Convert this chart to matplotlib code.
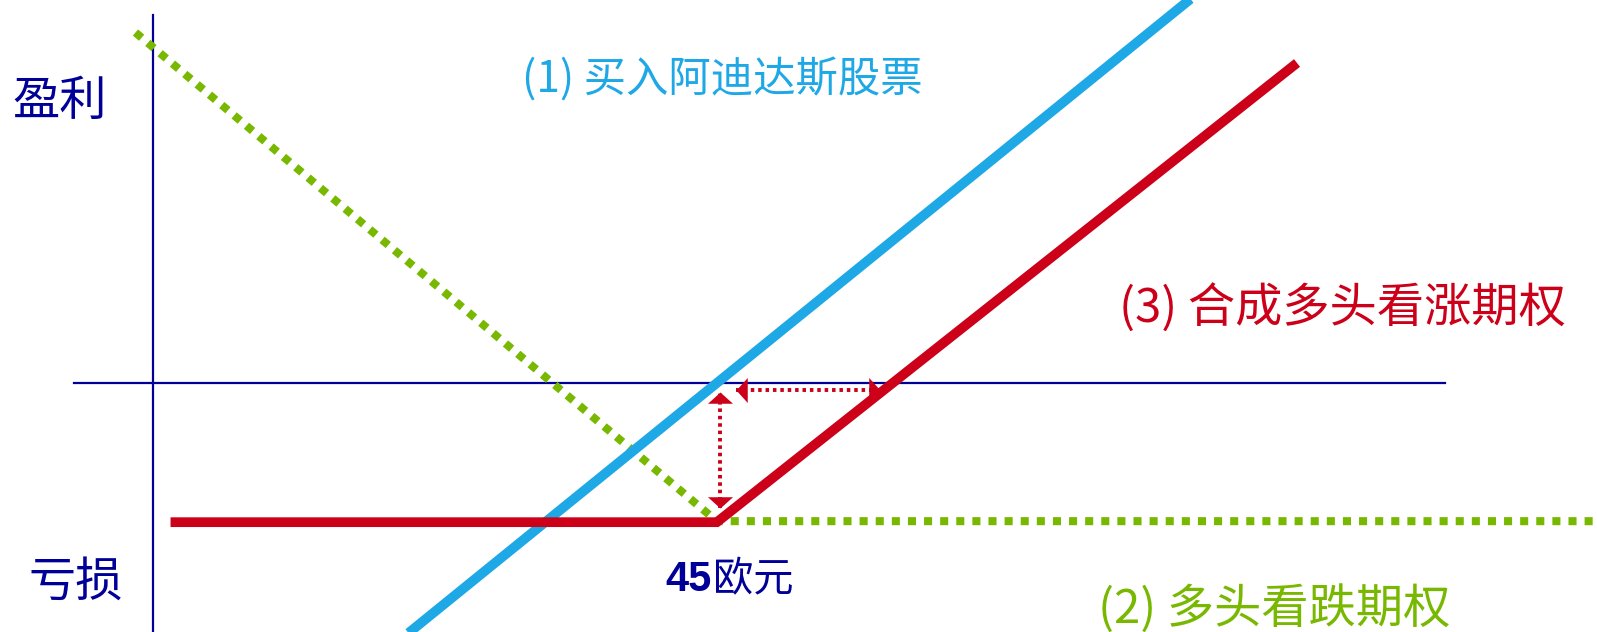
import matplotlib
matplotlib.use("Agg")
import matplotlib.pyplot as plt

plt.rcParams['font.family'] = ['Noto Sans CJK SC', 'DejaVu Sans']

# --- data: price (euro) vs profit ---
strike = 45
premium = 13.7

stock_price = [20.0, 83.0]          # (1) buy Adidas stock
stock_profit = [-25.0, 38.0]

put_price = [-1.4, 45.0, 116.0]     # (2) long put
put_profit = [34.5, -13.6, -13.6]

call_price = [1.4, 45.0, 91.3]      # (3) synthetic long call
call_profit = [-13.7, -13.7, 31.5]

# arrows showing the premium (vertical) and break-even shift (horizontal)
arrow_v_price = [45.25, 45.25]
arrow_v_profit = [-12.3, -0.9]
arrow_h_price = [46.5, 58.0]
arrow_h_profit = [-0.7, -0.7]

labels = ["(1) 买入阿迪达斯股票", "(2) 多头看跌期权", "(3) 合成多头看涨期权"]

navy = "#000099"
blue = "#1FA8E6"
green = "#78B800"
red = "#CC0019"

fig = plt.figure(figsize=(15.97, 6.32), dpi=100)
ax = fig.add_axes([0, 0, 1, 1])
ax.set_xlim(-12.21, 115.24)
ax.set_ylim(-24.51, 37.70)
ax.axis("off")

# axes cross
ax.plot([0, 0], [-25, 36.2], color=navy, lw=1.6, zorder=1)
ax.plot([-6.3, 103.1], [0, 0], color=navy, lw=1.6, zorder=1)

# payoff lines
ax.plot(put_price, put_profit, color=green, lw=5.8, linestyle=(0, (1, 1.0)),
        dash_capstyle="butt", zorder=2)
ax.plot(stock_price, stock_profit, color=blue, lw=7, solid_capstyle="butt", zorder=3)

# dotted double-headed arrows
ax.plot(arrow_v_price, arrow_v_profit, color=red, lw=2.8, linestyle=(0, (0.9, 1.0)),
        dash_capstyle="butt", zorder=4)
ax.plot(arrow_h_price, arrow_h_profit, color=red, lw=2.8, linestyle=(0, (0.9, 1.0)),
        dash_capstyle="butt", zorder=4)
up = [(-1, -0.9), (1, -0.9), (0, 0), (-1, -0.9)]
down = [(-1, 0.9), (1, 0.9), (0, 0), (-1, 0.9)]
left = [(0.9, -1), (0.9, 1), (0, 0), (0.9, -1)]
right = [(-0.9, -1), (-0.9, 1), (0, 0), (-0.9, -1)]
ms = 18
ax.plot(arrow_v_price[1], arrow_v_profit[1], marker=up, ms=ms, color=red, mew=0, zorder=4)
ax.plot(arrow_v_price[0], arrow_v_profit[0], marker=down, ms=ms, color=red, mew=0, zorder=4)
ax.plot(arrow_h_price[0], arrow_h_profit[0], marker=left, ms=ms, color=red, mew=0, zorder=4)
ax.plot(arrow_h_price[1], arrow_h_profit[1], marker=right, ms=ms, color=red, mew=0, zorder=4)

ax.plot(call_price, call_profit, color=red, lw=7, solid_capstyle="butt",
        solid_joinstyle="miter", zorder=5)

# texts
ax.text(-7.42, 27.66, "盈利", color=navy, fontsize=34, ha="center", va="center")
ax.text(-6.15, -19.6, "亏损", color=navy, fontsize=34, ha="center", va="center")
ax.text(44.6, -19.4, "45", color=navy, fontsize=30, fontweight="bold",
        family="Liberation Sans", ha="right", va="center")
ax.text(44.7, -19.4, "欧元", color=navy, fontsize=29, ha="left", va="center")
ax.text(45.4, 29.8, labels[0], color=blue, fontsize=30.5, ha="center", va="center")
ax.text(89.5, -22.3, labels[1], color=green, fontsize=34, ha="center", va="center")
ax.text(94.9, 7.3, labels[2], color=red, fontsize=34, ha="center", va="center")

fig.savefig("out.png", dpi=100, facecolor="white")
